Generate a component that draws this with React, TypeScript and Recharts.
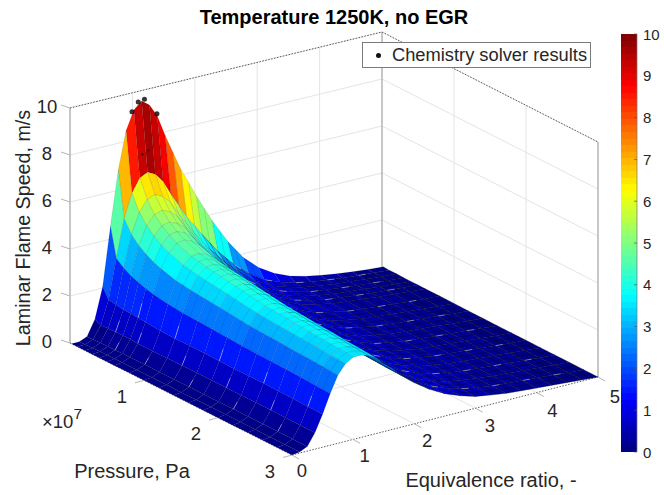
import { Bar, BarChart, Legend, Scatter, ScatterChart, XAxis, YAxis } from 'recharts'

const W = 664
const H = 495
const FONT = '"Liberation Sans", Arial, sans-serif'
const INK = '#262626'

// equivalence ratio, -
const phiValues = [0, 0.125, 0.25, 0.375, 0.5, 0.625, 0.75, 0.875, 1, 1.125, 1.25, 1.375, 1.5, 1.625, 1.75, 1.875, 2, 2.25, 2.5, 2.75, 3, 3.25, 3.5, 3.75, 4, 4.25, 4.5, 4.75, 5]
// pressure, x 1e7 Pa
const pressureValues = [0.02, 0.1, 0.2, 0.3, 0.4, 0.5, 0.6, 0.8, 1, 1.2, 1.4, 1.6, 1.8, 2, 2.2, 2.4, 2.6, 2.8, 3]

// laminar flame speed, one list per pressure
const speedP002 = [0, 0, 0.15, 0.8, 2.1, 4.6, 6.9, 8.5, 9.3, 9.6, 9.35, 8.8, 7.9, 7.1, 6.3, 5.66, 5, 3.8, 2.75, 1.9, 1.3, 0.9, 0.62, 0.45, 0.33, 0.23, 0.15, 0.09, 0.04]
const speedP01 = [0, 0.01, 0.15, 0.67, 1.68, 3.35, 4.96, 5.96, 6.53, 6.7, 6.53, 6.14, 5.52, 4.96, 4.4, 3.95, 3.48, 2.61, 1.9, 1.33, 0.91, 0.65, 0.46, 0.34, 0.25, 0.17, 0.12, 0.07, 0.02]
const speedP02 = [0, 0.02, 0.17, 0.7, 1.62, 3.1, 4.44, 5.31, 5.78, 5.9, 5.74, 5.42, 4.87, 4.38, 3.88, 3.46, 3.03, 2.29, 1.66, 1.17, 0.81, 0.59, 0.42, 0.32, 0.24, 0.18, 0.12, 0.06, 0.02]
const speedP03 = [0, 0.03, 0.17, 0.7, 1.57, 2.92, 4.13, 4.9, 5.29, 5.4, 5.25, 4.96, 4.46, 4.02, 3.55, 3.16, 2.76, 2.08, 1.51, 1.07, 0.75, 0.55, 0.39, 0.31, 0.23, 0.17, 0.11, 0.06, 0.01]
const speedP04 = [0, 0.04, 0.18, 0.71, 1.57, 2.8, 3.91, 4.61, 4.97, 5.05, 4.91, 4.64, 4.17, 3.76, 3.32, 2.95, 2.58, 1.93, 1.4, 1, 0.7, 0.53, 0.38, 0.3, 0.23, 0.17, 0.11, 0.06, 0.01]
const speedP05 = [0, 0.04, 0.18, 0.71, 1.54, 2.7, 3.74, 4.39, 4.74, 4.8, 4.67, 4.41, 3.96, 3.58, 3.16, 2.81, 2.45, 1.83, 1.33, 0.96, 0.67, 0.5, 0.36, 0.29, 0.22, 0.16, 0.11, 0.06, 0.01]
const speedP06 = [0, 0.04, 0.18, 0.69, 1.52, 2.62, 3.62, 4.22, 4.54, 4.6, 4.47, 4.22, 3.8, 3.43, 3.03, 2.69, 2.34, 1.75, 1.27, 0.92, 0.64, 0.49, 0.36, 0.28, 0.22, 0.16, 0.11, 0.06, 0.01]
const speedP08 = [0, 0.04, 0.19, 0.69, 1.47, 2.52, 3.44, 4, 4.31, 4.35, 4.22, 3.99, 3.6, 3.25, 2.86, 2.54, 2.21, 1.65, 1.2, 0.87, 0.61, 0.47, 0.34, 0.27, 0.21, 0.16, 0.1, 0.05, 0.01]
const speedP10 = [0, 0.04, 0.19, 0.69, 1.45, 2.46, 3.35, 3.88, 4.16, 4.2, 4.07, 3.86, 3.48, 3.14, 2.77, 2.45, 2.13, 1.59, 1.16, 0.84, 0.59, 0.45, 0.34, 0.27, 0.21, 0.16, 0.11, 0.05, 0.01]
const speedP12 = [0, 0.05, 0.19, 0.7, 1.46, 2.43, 3.29, 3.8, 4.07, 4.1, 3.98, 3.77, 3.39, 3.07, 2.7, 2.39, 2.07, 1.55, 1.12, 0.82, 0.58, 0.45, 0.33, 0.27, 0.21, 0.16, 0.11, 0.05, 0]
const speedP14 = [0, 0.04, 0.2, 0.71, 1.46, 2.4, 3.23, 3.72, 3.98, 4, 3.88, 3.68, 3.32, 2.99, 2.64, 2.33, 2.02, 1.5, 1.09, 0.8, 0.56, 0.44, 0.33, 0.26, 0.21, 0.16, 0.1, 0.05, 0]
const speedP16 = [0, 0.05, 0.2, 0.71, 1.45, 2.37, 3.17, 3.63, 3.88, 3.9, 3.78, 3.59, 3.23, 2.92, 2.57, 2.27, 1.96, 1.46, 1.06, 0.78, 0.55, 0.43, 0.32, 0.27, 0.21, 0.16, 0.11, 0.05, 0]
const speedP18 = [0, 0.05, 0.2, 0.71, 1.44, 2.33, 3.1, 3.55, 3.78, 3.8, 3.69, 3.5, 3.15, 2.85, 2.51, 2.21, 1.91, 1.42, 1.03, 0.76, 0.54, 0.43, 0.32, 0.26, 0.21, 0.16, 0.1, 0.05, 0]
const speedP20 = [0, 0.05, 0.2, 0.71, 1.44, 2.31, 3.07, 3.5, 3.74, 3.75, 3.64, 3.45, 3.11, 2.81, 2.47, 2.18, 1.88, 1.39, 1.02, 0.75, 0.53, 0.42, 0.32, 0.26, 0.21, 0.16, 0.1, 0.05, 0]
const speedP22 = [0, 0.05, 0.2, 0.72, 1.45, 2.3, 3.04, 3.46, 3.69, 3.7, 3.59, 3.4, 3.07, 2.77, 2.44, 2.15, 1.86, 1.37, 1, 0.74, 0.53, 0.42, 0.32, 0.26, 0.21, 0.16, 0.1, 0.05, 0]
const speedP24 = [0, 0.05, 0.2, 0.71, 1.44, 2.28, 3, 3.42, 3.64, 3.65, 3.54, 3.36, 3.03, 2.74, 2.41, 2.12, 1.83, 1.35, 0.99, 0.73, 0.52, 0.41, 0.31, 0.26, 0.2, 0.16, 0.1, 0.05, 0]
const speedP26 = [0, 0.05, 0.2, 0.71, 1.43, 2.26, 2.98, 3.38, 3.6, 3.6, 3.49, 3.31, 2.99, 2.7, 2.38, 2.09, 1.8, 1.33, 0.97, 0.72, 0.51, 0.41, 0.31, 0.25, 0.2, 0.15, 0.1, 0.05, 0]
const speedP28 = [0, 0.05, 0.2, 0.7, 1.41, 2.23, 2.94, 3.33, 3.55, 3.55, 3.44, 3.27, 2.95, 2.66, 2.34, 2.06, 1.78, 1.31, 0.96, 0.71, 0.51, 0.4, 0.3, 0.25, 0.2, 0.15, 0.1, 0.05, 0]
const speedP30 = [0, 0.05, 0.2, 0.7, 1.4, 2.2, 2.9, 3.3, 3.5, 3.5, 3.4, 3.22, 2.9, 2.62, 2.31, 2.03, 1.75, 1.3, 0.95, 0.7, 0.5, 0.4, 0.3, 0.25, 0.2, 0.15, 0.1, 0.05, 0]
const speedRows = [speedP002, speedP01, speedP02, speedP03, speedP04, speedP05, speedP06, speedP08, speedP10, speedP12, speedP14, speedP16, speedP18, speedP20, speedP22, speedP24, speedP26, speedP28, speedP30]

// chemistry solver points: [phi, pressure, speed]
const solverPoints = [[0.97, 0.02, 9.25], [1.07, 0.02, 9.6], [1.17, 0.02, 9.65], [1.37, 0.02, 8.9]]
const solverPointsHidden = [[1.1, 0.05, 7.4], [1.2, 0.05, 7.5]]

const speedTicks = [0, 2, 4, 6, 8, 10]
const phiTicks = [0, 1, 2, 3, 4, 5]
const pressureTicks = [1, 2, 3]
const colorbarTicks = [0, 1, 2, 3, 4, 5, 6, 7, 8, 9, 10]

const PHI_MAX = 5
const P_MAX = 3
const Z_MAX = 10
const Z_PX = 23.5

// viewing projection of the 3D box onto the picture
const project = (phi: number, p: number, z: number) => {
  const u = phi / PHI_MAX
  const v = p / P_MAX
  const x = (1 - u) * (1 - v) * 70 + (1 - u) * v * 292 + u * v * 598 + u * (1 - v) * 382
  const y = (1 - u) * (1 - v) * 343 + (1 - u) * v * 455 + u * v * 377 + u * (1 - v) * 267
  return { x, y: y - z * Z_PX }
}

// MATLAB jet, 64 levels
const jet = (t: number) => {
  const c = (v: number) => Math.round(255 * Math.max(0, Math.min(1, v)))
  const r = c(Math.min(4 * t - 1.5, -4 * t + 4.5))
  const g = c(Math.min(4 * t - 0.5, -4 * t + 3.5))
  const b = c(Math.min(4 * t + 0.5, -4 * t + 2.5))
  return `rgb(${r},${g},${b})`
}
const LEVELS = 64
const levelColor = (z: number) => {
  const i = Math.min(LEVELS - 1, Math.floor((z / Z_MAX) * LEVELS))
  return jet((i + 0.5) / LEVELS)
}

const RICH_FROM = 16 // phi index where the cells start to look dark from this view

// surface cells, back to front
const cells: any[] = []
pressureValues.slice(0, -1).forEach((p, i) => {
  for (let j = phiValues.length - 2; j >= 0; j--) {
    const corners = [
      project(phiValues[j], p, speedRows[i][j]),
      project(phiValues[j + 1], p, speedRows[i][j + 1]),
      project(phiValues[j + 1], pressureValues[i + 1], speedRows[i + 1][j + 1]),
      project(phiValues[j], pressureValues[i + 1], speedRows[i + 1][j]),
    ]
    cells.push({
      x: corners[0].x,
      y: corners[0].y,
      corners,
      fill: levelColor(speedRows[i][j]),
      rich: j >= RICH_FROM && i > 0,
      midP: i >= 7,
      midPhi: j >= 16,
      fleck: (j >= 17 && i % 2 === 1 && j % 2 === 0) || (j >= 2 && j <= 4 && i >= 3 && (i + j) % 3 === 0),
    })
  }
})

const mid = (a: any, b: any) => ({ x: (a.x + b.x) / 2, y: (a.y + b.y) / 2 })

const CellShape = (props: any) => {
  const { cx, cy, payload } = props
  const dx = cx - payload.x
  const dy = cy - payload.y
  const c = payload.corners.map((k: any) => ({ x: k.x + dx, y: k.y + dy }))
  const points = c.map((k: any) => `${k.x},${k.y}`).join(' ')
  const opacity = payload.rich ? 0.45 : 0.2
  const width = payload.rich ? 0.7 : 0.5
  return (
    <g>
      <polygon points={points} fill={payload.fill} stroke="#000" strokeOpacity={opacity} strokeWidth={width} strokeLinejoin="round" />
      {payload.midP && (() => {
        const a = mid(c[0], c[3])
        const b = mid(c[1], c[2])
        return <line x1={a.x} y1={a.y} x2={b.x} y2={b.y} stroke="#000" strokeOpacity={opacity} strokeWidth={width} />
      })()}
      {payload.midPhi && (() => {
        const a = mid(c[0], c[1])
        const b = mid(c[3], c[2])
        return <line x1={a.x} y1={a.y} x2={b.x} y2={b.y} stroke="#000" strokeOpacity={opacity} strokeWidth={width} />
      })()}
      {payload.fleck && <line x1={c[0].x} y1={c[0].y} x2={(c[0].x + c[1].x) / 2} y2={(c[0].y + c[1].y) / 2} stroke="#fff" strokeOpacity={0.6} strokeWidth={0.7} />}
    </g>
  )
}

// segments of the box, the grid and the ticks
const segment = (a: any, b: any, stroke: string, width = 1, dash?: string) => ({
  x: a.x,
  y: a.y,
  end: b,
  stroke,
  width,
  dash,
})

const SegmentShape = (props: any) => {
  const { cx, cy, payload } = props
  return (
    <line
      x1={cx}
      y1={cy}
      x2={cx + payload.end.x - payload.x}
      y2={cy + payload.end.y - payload.y}
      stroke={payload.stroke}
      strokeWidth={payload.width}
      strokeDasharray={payload.dash}
    />
  )
}

const GRID = '#e4e4e4'
const gridSegments: any[] = []
speedTicks.slice(1).forEach((z) => {
  gridSegments.push(segment(project(0, 0, z), project(PHI_MAX, 0, z), GRID))
  gridSegments.push(segment(project(PHI_MAX, 0, z), project(PHI_MAX, P_MAX, z), GRID))
})
phiTicks.slice(1, -1).forEach((phi) => {
  gridSegments.push(segment(project(phi, 0, 0), project(phi, 0, Z_MAX), GRID))
  gridSegments.push(segment(project(phi, 0, 0), project(phi, P_MAX, 0), GRID))
})
pressureTicks.slice(0, -1).forEach((p) => {
  gridSegments.push(segment(project(PHI_MAX, p, 0), project(PHI_MAX, p, Z_MAX), GRID))
  gridSegments.push(segment(project(0, p, 0), project(PHI_MAX, p, 0), GRID))
})

const EDGE = '#b4b4b4'
const boxSegments = [
  segment(project(0, 0, 0), project(0, 0, Z_MAX), EDGE, 1.5),
  segment(project(PHI_MAX, 0, 0), project(PHI_MAX, 0, Z_MAX), EDGE, 1.5),
  segment(project(PHI_MAX, P_MAX, 0), project(PHI_MAX, P_MAX, Z_MAX), EDGE, 1.5),
  segment(project(0, 0, Z_MAX), project(PHI_MAX, 0, Z_MAX), '#333', 0.8, '1.5 1.5'),
  segment(project(PHI_MAX, 0, Z_MAX), project(PHI_MAX, P_MAX, Z_MAX), '#333', 0.8, '1.5 1.5'),
  segment(project(0, 0, 0), project(0, P_MAX, 0), '#333', 0.8, '1.5 1.5'),
  segment(project(0, P_MAX, 0), project(PHI_MAX, P_MAX, 0), '#333', 0.8, '1.5 1.5'),
]

const tickSegments: any[] = []
speedTicks.forEach((z) => {
  const a = project(0, 0, z)
  tickSegments.push(segment(a, { x: a.x - 9, y: a.y - 3 }, EDGE))
})
pressureTicks.forEach((p) => {
  const a = project(0, p, 0)
  tickSegments.push(segment(a, { x: a.x - 9, y: a.y + 2.5 }, EDGE))
})
phiTicks.forEach((phi) => {
  const a = project(phi, P_MAX, 0)
  tickSegments.push(segment(a, { x: a.x + 7, y: a.y + 4 }, EDGE))
})

// tick labels sit at a fixed offset from their tick
const tickLabels = [
  ...speedTicks.map((z) => ({ ...project(0, 0, z), dx: -23, dy: -2, text: String(z) })),
  ...pressureTicks.map((p) => ({ ...project(0, p, 0), dx: -22, dy: 16, text: String(p) })),
  ...phiTicks.map((phi) => ({ ...project(phi, P_MAX, 0), dx: 10 + 1.4 * phi, dy: 15.5 + 0.7 * phi, text: String(phi) })),
]

const LabelShape = (props: any) => {
  const { cx, cy, payload } = props
  return (
    <text x={cx + payload.dx} y={cy + payload.dy} textAnchor="middle" dominantBaseline="central" fontSize={18.5} fontFamily={FONT} fill={INK}>
      {payload.text}
    </text>
  )
}

const solverData = solverPoints.map(([phi, p, z]) => project(phi, p, z))
const solverHiddenData = solverPointsHidden.map(([phi, p, z]) => project(phi, p, z))

const DotShape = (r: number) => (props: any) => <circle cx={props.cx} cy={props.cy} r={r} fill="#111" fillOpacity={0.85} />

const LegendBox = ({ payload }: any) => {
  const item = (payload || []).find((d: any) => d.value)
  return (
    <div style={{ width: 229, height: 26, boxSizing: 'border-box', background: '#fff', border: '1px solid #7a7a7a', display: 'flex', alignItems: 'center', fontFamily: FONT, fontSize: 18.3, color: INK, whiteSpace: 'nowrap' }}>
      <span style={{ width: 5, height: 5, borderRadius: '50%', background: '#111', marginLeft: 13, marginRight: 11 }} />
      {item ? item.value : ''}
    </div>
  )
}

// colorbar bands
const bandKeys = Array.from({ length: LEVELS }, (_, i) => `band${i}`)
const colorbarRow: Record<string, number> = {}
bandKeys.forEach((k) => {
  colorbarRow[k] = Z_MAX / LEVELS
})

const ColorbarTick = (props: any) => {
  const { x, y, payload } = props
  return (
    <g>
      <line x1={x - 3} x2={x} y1={y} y2={y} stroke="#555" strokeWidth={0.7} />
      <text x={x + 6} y={y} dominantBaseline="central" fontSize={15} fontFamily={FONT} fill={INK}>
        {payload.value}
      </text>
    </g>
  )
}

export default function App() {
  return (
    <div style={{ position: 'absolute', left: 0, top: 0, width: W, height: H, background: '#fff' }}>
      <ScatterChart width={W} height={H} margin={{ top: 0, right: 0, bottom: 0, left: 0 }}>
        <XAxis type="number" dataKey="x" domain={[0, W]} hide />
        <YAxis type="number" dataKey="y" domain={[0, H]} reversed hide />
        <Scatter data={gridSegments} dataKey="y" shape={SegmentShape} legendType="none" isAnimationActive={false} />
        <Scatter data={boxSegments} dataKey="y" shape={SegmentShape} legendType="none" isAnimationActive={false} />
        <Scatter data={tickSegments} dataKey="y" shape={SegmentShape} legendType="none" isAnimationActive={false} />
        <Scatter data={cells} dataKey="y" shape={CellShape} legendType="none" isAnimationActive={false} />
        <Scatter data={solverHiddenData} dataKey="y" shape={DotShape(1.2)} legendType="none" isAnimationActive={false} />
        <Scatter name="Chemistry solver results" data={solverData} dataKey="y" shape={DotShape(2.5)} isAnimationActive={false} />
        <Scatter data={tickLabels} dataKey="y" shape={LabelShape} legendType="none" isAnimationActive={false} />
        <Legend content={LegendBox} layout="horizontal" verticalAlign="middle" wrapperStyle={{ left: 362, top: 42, width: 229, height: 26 }} />
        <text x={334} y={24} textAnchor="middle" fontSize={20} fontWeight="bold" fontFamily={FONT} fill="#000">
          Temperature 1250K, no EGR
        </text>
        <text x={23} y={228} transform="rotate(-90 23 228)" textAnchor="middle" dominantBaseline="central" fontSize={19.7} fontFamily={FONT} fill={INK}>
          Laminar Flame Speed, m/s
        </text>
        <text x={132} y={471} textAnchor="middle" dominantBaseline="central" fontSize={20} fontFamily={FONT} fill={INK}>
          Pressure, Pa
        </text>
        <text x={491} y={480} textAnchor="middle" dominantBaseline="central" fontSize={20} fontFamily={FONT} fill={INK}>
          Equivalence ratio, -
        </text>
        <text x={42} y={428} fontSize={18.5} fontFamily={FONT} fill={INK}>
          ×10
          <tspan dy={-9.5} fontSize={15.5}>7</tspan>
        </text>
      </ScatterChart>
      <div style={{ position: 'absolute', left: 600, top: 0 }}>
        <BarChart width={64} height={H} data={[colorbarRow]} margin={{ top: 34, right: 0, bottom: 43, left: 21 }} barCategoryGap={0}>
          <XAxis hide />
          <YAxis orientation="right" width={27} domain={[0, Z_MAX]} ticks={colorbarTicks} tick={ColorbarTick} tickLine={false} tickSize={0} tickMargin={0} axisLine={{ stroke: '#777', strokeWidth: 0.7 }} interval={0} />
          {bandKeys.map((k, i) => (
            <Bar key={k} dataKey={k} stackId="cb" fill={jet((i + 0.5) / LEVELS)} shapeRendering="crispEdges" isAnimationActive={false} />
          ))}
        </BarChart>
      </div>
    </div>
  )
}
